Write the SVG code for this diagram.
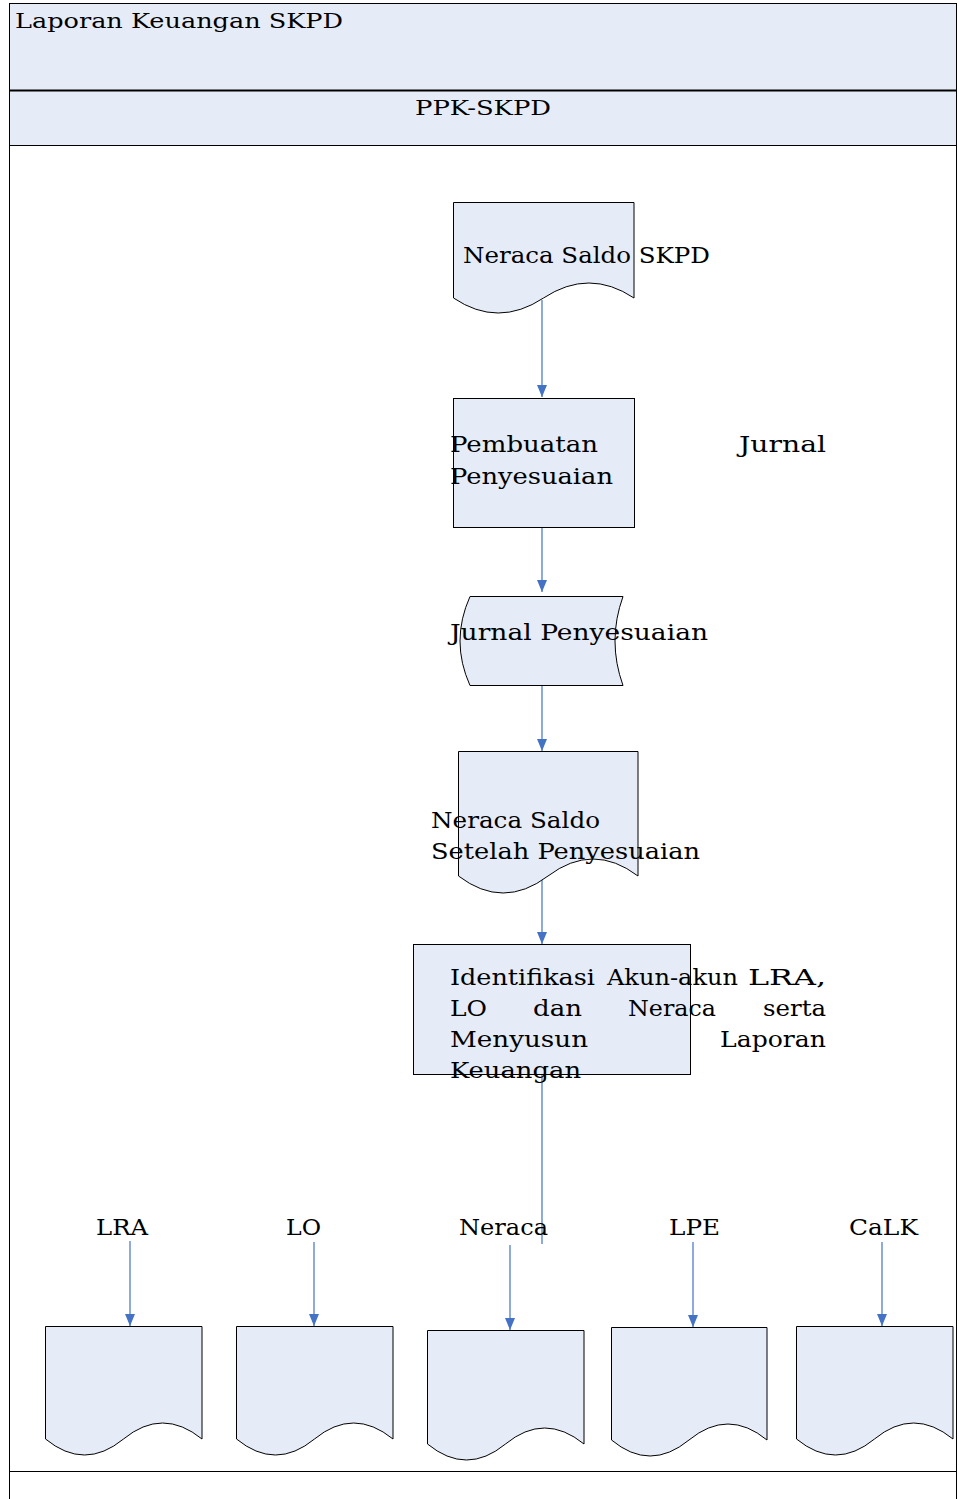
<svg xmlns="http://www.w3.org/2000/svg" width="959" height="1499" viewBox="0 0 959 1499">
<style>
text{font-family:"DejaVu Serif","Liberation Serif",serif;fill:#000;}
.h{font-size:20px;}
.t{font-size:23px;}
.shape{fill:#E6ECF7;stroke:#000;stroke-width:1;}
.con{stroke:#4472C4;stroke-width:1.2;fill:none;}
.arr{stroke:#4472C4;stroke-width:1.2;fill:none;marker-end:url(#ah);}
</style>
<defs>
<marker id="ah" viewBox="0 0 12 10" refX="12" refY="5" markerWidth="12" markerHeight="10" markerUnits="userSpaceOnUse" orient="auto">
<path d="M0,0 L12,5 L0,10 Z" fill="#4472C4"/>
</marker>
</defs>
<rect x="0" y="0" width="959" height="1499" fill="#fff"/>
<g id="lane">
<rect x="9.5" y="3.5" width="947" height="87" fill="#E6ECF7" stroke="#000" stroke-width="1"/>
<rect x="9.5" y="90.5" width="947" height="55" fill="#E6ECF7" stroke="#000" stroke-width="1"/>
<line x1="9" y1="90.5" x2="957" y2="90.5" stroke="#000" stroke-width="2"/>
<line x1="9.5" y1="145" x2="9.5" y2="1499" stroke="#000"/>
<line x1="956.5" y1="145" x2="956.5" y2="1499" stroke="#000"/>
<line x1="9" y1="1471.5" x2="957" y2="1471.5" stroke="#000"/>
<text class="h" x="15" y="28" textLength="328" lengthAdjust="spacingAndGlyphs">Laporan Keuangan SKPD</text>
<text class="h" x="415" y="115" textLength="136" lengthAdjust="spacingAndGlyphs">PPK-SKPD</text>
</g>
<g id="connectors">
<line class="arr" x1="542" y1="300" x2="542" y2="397"/>
<line class="arr" x1="542" y1="527" x2="542" y2="592"/>
<line class="arr" x1="542" y1="686" x2="542" y2="751"/>
<line class="arr" x1="542" y1="878" x2="542" y2="944"/>
<line class="con" x1="542" y1="1074" x2="542" y2="1244"/>
<line class="arr" x1="130" y1="1241" x2="130" y2="1326"/>
<line class="arr" x1="314" y1="1242" x2="314" y2="1326"/>
<line class="arr" x1="510" y1="1245" x2="510" y2="1330"/>
<line class="arr" x1="693" y1="1242" x2="693" y2="1327"/>
<line class="arr" x1="882" y1="1242" x2="882" y2="1326"/>
</g>
<g id="n1">
<path class="shape" d="M453.5,202.5 H634 V298 Q589,268 543.5,298 Q498,328 453.5,298 Z"/>
<text class="t" x="463" y="263" textLength="247" lengthAdjust="spacingAndGlyphs">Neraca Saldo SKPD</text>
</g>
<g id="n2">
<rect class="shape" x="453.5" y="398.5" width="181" height="129"/>
<text class="t" x="450" y="452" textLength="148" lengthAdjust="spacingAndGlyphs">Pembuatan</text>
<text class="t" x="739" y="452" textLength="87" lengthAdjust="spacingAndGlyphs">Jurnal</text>
<text class="t" x="450" y="484" textLength="163" lengthAdjust="spacingAndGlyphs">Penyesuaian</text>
</g>
<g id="n3">
<path class="shape" d="M470,596.5 H623 Q607,641 623,685.5 H470 Q450,641 470,596.5 Z"/>
<text class="t" x="450" y="640" textLength="258" lengthAdjust="spacingAndGlyphs">Jurnal Penyesuaian</text>
</g>
<g id="n4">
<path class="shape" d="M458.5,751.5 H638 V876 Q593,842 548,876 Q503,910 458.5,876 Z"/>
<text class="t" x="431" y="828" textLength="169" lengthAdjust="spacingAndGlyphs">Neraca Saldo</text>
<text class="t" x="431" y="859" textLength="269" lengthAdjust="spacingAndGlyphs">Setelah Penyesuaian</text>
</g>
<g id="n5">
<rect class="shape" x="413.5" y="944.5" width="277" height="130"/>
<text class="t" x="450" y="985" textLength="145" lengthAdjust="spacingAndGlyphs">Identifikasi</text>
<text class="t" x="607" y="985" textLength="131" lengthAdjust="spacingAndGlyphs">Akun-akun</text>
<text class="t" x="748" y="985" textLength="78" lengthAdjust="spacingAndGlyphs">LRA,</text>
<text class="t" x="450" y="1016" textLength="37" lengthAdjust="spacingAndGlyphs">LO</text>
<text class="t" x="533" y="1016" textLength="49" lengthAdjust="spacingAndGlyphs">dan</text>
<text class="t" x="628" y="1016" textLength="88" lengthAdjust="spacingAndGlyphs">Neraca</text>
<text class="t" x="763" y="1016" textLength="63" lengthAdjust="spacingAndGlyphs">serta</text>
<text class="t" x="450" y="1047" textLength="138" lengthAdjust="spacingAndGlyphs">Menyusun</text>
<text class="t" x="720" y="1047" textLength="106" lengthAdjust="spacingAndGlyphs">Laporan</text>
<text class="t" x="450" y="1078" textLength="131" lengthAdjust="spacingAndGlyphs">Keuangan</text>
</g>
<g id="lra">
<text class="t" x="96" y="1235" textLength="52" lengthAdjust="spacingAndGlyphs">LRA</text>
<path class="shape" d="M45.5,1326.5 H202 V1439 Q162.5,1407 123.5,1439 Q84.5,1471 45.5,1439 Z"/>
</g>
<g id="lo">
<text class="t" x="286" y="1235" textLength="35" lengthAdjust="spacingAndGlyphs">LO</text>
<path class="shape" d="M236.5,1326.5 H393 V1439 Q353.5,1407 314.5,1439 Q275.5,1471 236.5,1439 Z"/>
</g>
<g id="neraca">
<text class="t" x="459" y="1235" textLength="89" lengthAdjust="spacingAndGlyphs">Neraca</text>
<path class="shape" d="M427.5,1330.5 H584 V1444 Q544.5,1412 505.5,1444 Q466.5,1476 427.5,1444 Z"/>
</g>
<g id="lpe">
<text class="t" x="669" y="1235" textLength="51" lengthAdjust="spacingAndGlyphs">LPE</text>
<path class="shape" d="M611.5,1327.5 H767 V1440 Q728,1408 689,1440 Q650,1472 611.5,1440 Z"/>
</g>
<g id="calk">
<text class="t" x="849" y="1235" textLength="69" lengthAdjust="spacingAndGlyphs">CaLK</text>
<path class="shape" d="M796.5,1326.5 H953 V1439 Q913.5,1407 874.5,1439 Q835.5,1471 796.5,1439 Z"/>
</g>
</svg>
